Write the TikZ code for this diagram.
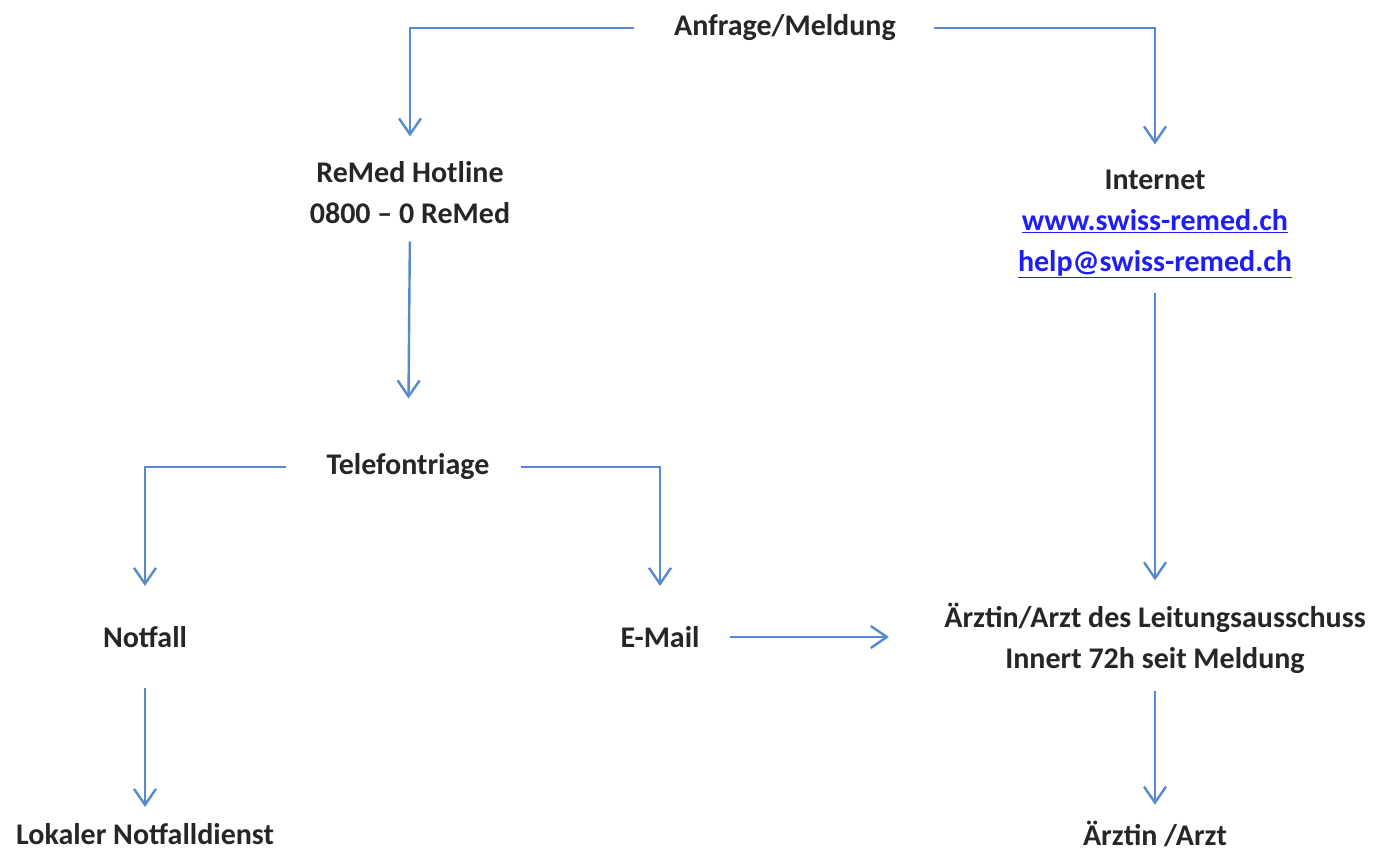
\documentclass[tikz,border=0pt]{standalone}
\usepackage{fontspec}
\setmainfont{Carlito}
\usetikzlibrary{arrows.meta}
\definecolor{lineblue}{RGB}{86,138,206}
\definecolor{linkblue}{RGB}{30,30,245}
\newcommand{\weblink}[1]{\textcolor{linkblue}{\underline{#1}}}

\begin{document}
\begin{tikzpicture}[x=1pt, y=-1pt, thick]

		\tikzstyle{lbl}=[align=center, text=black!85, font=\fontsize{30}{41}\selectfont\bfseries, inner sep=0pt]
		\tikzstyle{flow}=[line width=2.4pt, draw=lineblue, -{Straight Barb[length=16pt, width=22pt, line width=2.4pt]}]

		\useasboundingbox (0,0) rectangle (1377,856);

		\node[lbl] (anf)   at (785,28)   {Anfrage/Meldung};
		\node[lbl] (hot)   at (410,193)  {ReMed Hotline\\0800 -- 0 ReMed};
		\node[lbl] (web)   at (1155,224) {Internet\\\weblink{www.swiss-remed.ch}\\\weblink{help@swiss-remed.ch}};
		\node[lbl] (tel)   at (408,467)  {Telefontriage};
		\node[lbl] (not)   at (145,637)  {Notfall};
		\node[lbl] (mail)  at (660,637)  {E-Mail};
		\node[lbl] (arzt)  at (1155,638) {Ärztin/Arzt des Leitungsausschuss\\Innert 72h seit Meldung};
		\node[lbl] (lok)   at (145,834)  {Lokaler Notfalldienst};
		\node[lbl] (arzt2) at (1155,834) {Ärztin /Arzt};

		% Anfrage
		\draw[flow, shorten <=40pt, shorten >=25pt] (anf.west) -| (hot.north);
		\draw[flow, shorten <=38pt, shorten >=25pt] (anf.east) -| (web.north);

		% Hotline
		\draw[flow, shorten <=17pt, shorten >=55pt] (hot.south) -- (tel.north);
		\draw[flow, shorten <=15pt, shorten >=22pt] (web.south) -- (arzt.north);

		% Triage
		\draw[flow, shorten <=40pt, shorten >=40pt] (tel.west) -| (not.north);
		\draw[flow, shorten <=31pt, shorten >=40pt] (tel.east) -| (mail.north);

		\draw[flow, shorten <=30pt, shorten >=55pt] (mail.east) -- (mail.east -| arzt.west);
		\draw[flow, shorten <=40pt, shorten >=16pt] (not.south) -- (lok.north);
		\draw[flow, shorten <=17pt, shorten >=16pt] (arzt.south) -- (arzt2.north);
\end{tikzpicture}
\end{document}
